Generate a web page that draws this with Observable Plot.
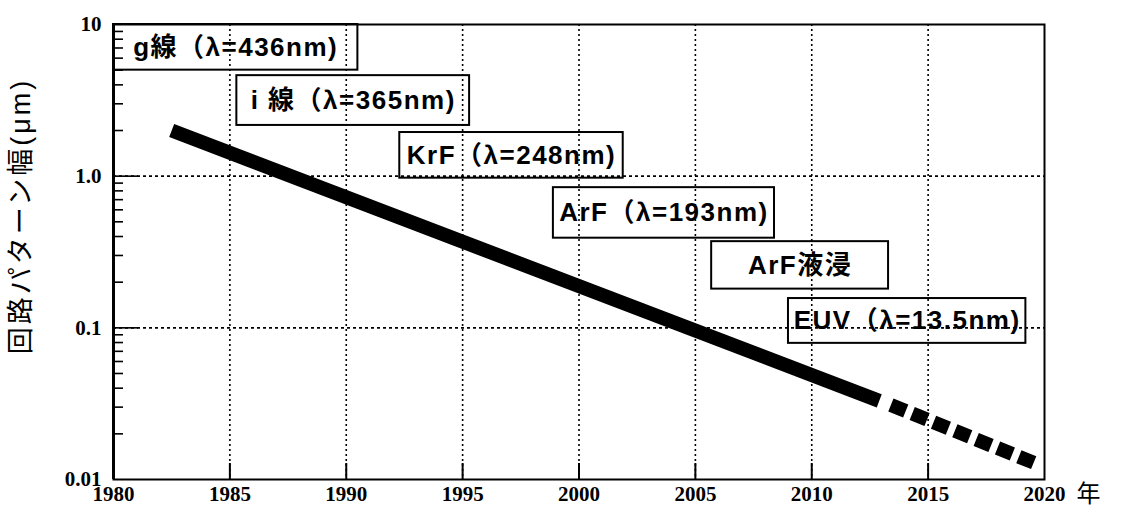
<!DOCTYPE html>
<html>
<head>
<meta charset="utf-8">
<script src="https://cdn.jsdelivr.net/npm/d3@7"></script>
<script src="https://cdn.jsdelivr.net/npm/@observablehq/plot@0.6"></script>
<style>
  html, body { margin: 0; padding: 0; background: #fff; }
  #chart svg { display: block; }
</style>
</head>
<body>
<div id="chart"></div>
<script>
// ---- data ----
const xTicks = [1980, 1985, 1990, 1995, 2000, 2005, 2010, 2015, 2020];
const xTickLabels = ["1980", "1985", "1990", "1995", "2000", "2005", "2010", "2015", "2020"];
const gridYears = [1985, 1990, 1995, 2000, 2005, 2010, 2015];
const yTicks = [10, 1, 0.1, 0.01];
const yTickLabels = ["10", "1.0", "0.1", "0.01"];
const yGrid = [1, 0.1];
const yMinor = [0.02, 0.03, 0.04, 0.05, 0.06, 0.07, 0.08, 0.09,
                0.2, 0.3, 0.4, 0.5, 0.6, 0.7, 0.8, 0.9,
                2, 3, 4, 5, 6, 7, 8, 9];
const yTitle = "回路パターン幅(μm)";
const xUnit = "年";

// trend line (solid = achieved, dashed = projected)
const solidYears = [1982.5, 2012.9];
const solidWidth = [2.0, 0.033];
const dashYears = [2013.4, 2019.6];
const dashWidth = [0.031, 0.0128];

// technology label boxes
const labelText = ["g線（λ=436nm)", "i 線（λ=365nm)", "KrF（λ=248nm)", "ArF（λ=193nm)", "ArF液浸", "EUV（λ=13.5nm)"];
const labelX1 = [1980, 1985.3, 1992.3, 1998.9, 2005.7, 2009.0];
const labelX2 = [1990.5, 1995.3, 2001.9, 2008.4, 2013.3, 2019.2];
const labelYTop = [10, 4.6, 1.94, 0.84, 0.37, 0.156];
const labelYBottom = [5.0, 2.16, 0.97, 0.39, 0.18, 0.079];

// ---- tables ----
const solid = solidYears.map((x, i) => ({x, y: solidWidth[i]}));
const dashed = dashYears.map((x, i) => ({x, y: dashWidth[i]}));
const boxes = labelText.map((t, i) => ({
  t, x1: labelX1[i], x2: labelX2[i], y1: labelYBottom[i], y2: labelYTop[i]
}));
const xTickData = xTicks.map((v, i) => ({v, t: xTickLabels[i]}));
const yTickData = yTicks.map((v, i) => ({v, t: yTickLabels[i]}));

const serif = "'Liberation Serif', 'DejaVu Serif', serif";
const sans = "'Liberation Sans', 'Noto Sans CJK JP', sans-serif";

const chart = Plot.plot({
  width: 1123,
  height: 514,
  marginLeft: 113,
  marginRight: 79,
  marginTop: 24,
  marginBottom: 35,
  x: {domain: [1980, 2020], axis: null},
  y: {type: "log", domain: [0.01, 10], axis: null},
  style: {background: "#fff", color: "#000"},
  marks: [
    // grid
    Plot.ruleX(gridYears, {stroke: "#000", strokeWidth: 1.6, strokeDasharray: "2,3"}),
    Plot.ruleY(yGrid, {stroke: "#000", strokeWidth: 1.6, strokeDasharray: "3,3"}),
    // inward ticks
    Plot.axisX(gridYears, {anchor: "bottom", tickSize: 16, dy: -16, tickFormat: () => "", strokeWidth: 2}),
    Plot.axisY(yMinor, {anchor: "left", tickSize: 10, dx: 10, tickFormat: () => "", strokeWidth: 1.6}),
    Plot.axisY(yGrid, {anchor: "left", tickSize: 25, dx: 25, tickFormat: () => "", strokeWidth: 1.6}),
    // tick labels
    Plot.text(xTickData, {x: "v", text: "t", frameAnchor: "bottom", dy: 21, fontSize: 21, fontWeight: "bold", fontFamily: serif, fill: "#000"}),
    Plot.text(yTickData, {y: "v", text: "t", frameAnchor: "left", textAnchor: "end", dx: -12, fontSize: 21, fontWeight: "bold", fontFamily: serif, fill: "#000"}),
    // frame
    Plot.frame({stroke: "#000", strokeWidth: 2}),
    Plot.ruleX([1980], {stroke: "#000", strokeWidth: 3}),
    // trend line
    Plot.line(solid, {x: "x", y: "y", stroke: "#000", strokeWidth: 14, strokeLinecap: "butt"}),
    Plot.line(dashed, {x: "x", y: "y", stroke: "#000", strokeWidth: 14, strokeLinecap: "butt", strokeDasharray: "16,7"}),
    // label boxes
    Plot.rect(boxes, {x1: "x1", x2: "x2", y1: "y1", y2: "y2", fill: "none", stroke: "#000", strokeWidth: 2}),
    Plot.text(boxes, {
      x: d => (d.x1 + d.x2) / 2,
      y: d => Math.sqrt(d.y1 * d.y2),
      text: "t", fontSize: 26, fontWeight: "bold", fontFamily: sans, fill: "#000"
    }),
    // titles
    Plot.text([yTitle], {frameAnchor: "left", textAnchor: "middle", rotate: -90, dx: -92, dy: -36, fontSize: 27, fontFamily: sans, fill: "#000"}),
    Plot.text([xUnit], {frameAnchor: "bottom-right", dx: 56, dy: 22, fontSize: 24, fontFamily: sans, fill: "#000"})
  ]
});
document.getElementById("chart").appendChild(chart);

// letter spacing to match the stretched lettering of the original
d3.select(chart).selectAll("text")
  .filter(function() { return labelText.includes(this.textContent); })
  .style("letter-spacing", "1.5px");
d3.select(chart).selectAll("text")
  .filter(function() { return this.textContent === yTitle; })
  .style("letter-spacing", "3px");
</script>
</body>
</html>
